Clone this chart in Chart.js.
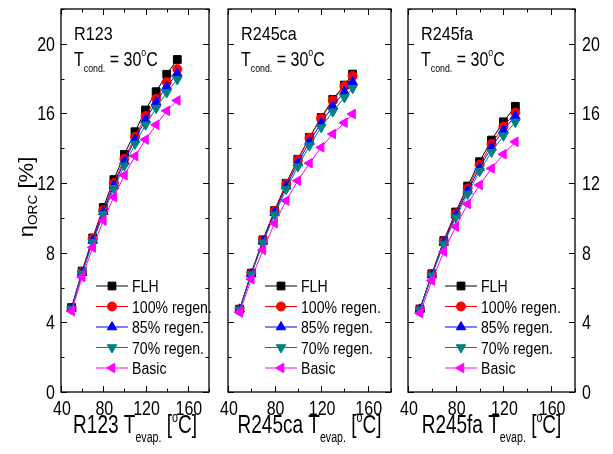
<!DOCTYPE html>
<html>
<head>
<meta charset="utf-8">
<script src="https://cdn.jsdelivr.net/npm/chart.js@4.4.0/dist/chart.umd.min.js"></script>
<style>
  body { margin: 0; background: #fff; width: 613px; height: 454px; overflow: hidden; position: relative; }
  canvas { position: absolute; left: 0; top: 0; }
</style>
</head>
<body>
<canvas id="c1" width="613" height="454"></canvas>
<canvas id="c2" width="613" height="454"></canvas>
<canvas id="c3" width="613" height="454"></canvas>
<script>
// evaporation temperatures (°C)
const tR123 = [50, 60, 70, 80, 90, 100, 110, 120, 130, 140, 150];
const tR245ca = [50, 60, 70, 80, 90, 100, 110, 120, 130, 140, 147];
const tR245fa = [50, 60, 70, 80, 90, 100, 110, 120, 130];

// efficiencies (%)
const r123FLH    = [4.85, 6.95, 8.85, 10.6, 12.2, 13.65, 14.95, 16.2, 17.25, 18.25, 19.1];
const r123Reg100 = [4.8, 6.9, 8.8, 10.45, 12.0, 13.4, 14.65, 15.85, 16.85, 17.8, 18.55];
const r123Reg85  = [4.8, 6.85, 8.7, 10.35, 11.85, 13.25, 14.5, 15.65, 16.65, 17.55, 18.3];
const r123Reg70  = [4.75, 6.8, 8.6, 10.2, 11.7, 13.0, 14.25, 15.35, 16.3, 17.2, 17.95];
const r123Basic  = [4.65, 6.6, 8.3, 9.85, 11.2, 12.45, 13.55, 14.5, 15.35, 16.15, 16.75];

const r245caFLH    = [4.76, 6.83, 8.74, 10.42, 11.99, 13.37, 14.63, 15.77, 16.81, 17.63, 18.26];
const r245caReg100 = [4.75, 6.8, 8.72, 10.4, 11.95, 13.33, 14.6, 15.72, 16.75, 17.58, 18.15];
const r245caReg85  = [4.75, 6.78, 8.65, 10.3, 11.82, 13.15, 14.38, 15.45, 16.42, 17.25, 17.82];
const r245caReg70  = [4.72, 6.75, 8.58, 10.18, 11.65, 12.95, 14.15, 15.2, 16.1, 16.92, 17.45];
const r245caBasic  = [4.57, 6.48, 8.16, 9.69, 10.99, 12.14, 13.14, 14.05, 14.82, 15.47, 15.97];

const r245faFLH    = [4.77, 6.79, 8.7, 10.34, 11.83, 13.23, 14.47, 15.52, 16.41];
const r245faReg100 = [4.75, 6.75, 8.65, 10.25, 11.7, 13.05, 14.25, 15.25, 16.05];
const r245faReg85  = [4.75, 6.72, 8.58, 10.15, 11.55, 12.88, 14.05, 15.05, 15.85];
const r245faReg70  = [4.72, 6.68, 8.5, 10.02, 11.38, 12.68, 13.78, 14.72, 15.5];
const r245faBasic  = [4.53, 6.4, 8.06, 9.5, 10.8, 11.89, 12.84, 13.66, 14.37];

const seriesNames = ['FLH', '100% regen.', '85% regen.', '70% regen.', 'Basic'];
const fluidNames = ['R123', 'R245ca', 'R245fa'];

const FONT = '"Liberation Sans", Arial, sans-serif';
const W = 613;

// marker styles for the five series
const styles = [
  { color: '#000000', pointStyle: 'rect', rotation: 0, radius: 5.5 },
  { color: '#ff0000', pointStyle: 'circle', rotation: 0, radius: 4.5 },
  { color: '#0000ff', pointStyle: 'triangle', rotation: 0, radius: 5.5 },
  { color: '#008080', pointStyle: 'triangle', rotation: 180, radius: 5.5 },
  { color: '#ff00ff', pointStyle: 'triangle', rotation: 270, radius: 5.5 }
];

// text drawn in pieces: [text, size, dy]
function drawRich(ctx, parts, x, y, align, sx) {
  let w = 0;
  parts.forEach(p => { ctx.font = p[1] + 'px ' + FONT; w += ctx.measureText(p[0]).width; });
  ctx.save();
  ctx.translate(x, y);
  ctx.scale(sx, 1);
  let cx = align === 'center' ? -w / 2 : (align === 'right' ? -w : 0);
  ctx.textAlign = 'left';
  ctx.textBaseline = 'alphabetic';
  ctx.fillStyle = '#000';
  parts.forEach(p => {
    ctx.font = p[1] + 'px ' + FONT;
    ctx.fillText(p[0], cx, p[2] || 0);
    cx += ctx.measureText(p[0]).width;
  });
  ctx.restore();
}

const framePlugin = {
  id: 'frame',
  beforeDatasetsDraw(chart, args, o) {
    const ctx = chart.ctx;
    const a = chart.chartArea;
    const xs = chart.scales.x, ys = chart.scales.y;
    ctx.save();
    ctx.strokeStyle = '#000';
    ctx.lineWidth = 1.3;
    ctx.strokeRect(a.left, a.top, a.right - a.left, a.bottom - a.top);
    ctx.lineWidth = 1;
    ctx.beginPath();
    xs.ticks.forEach(t => {
      const px = Math.round(xs.getPixelForValue(t.value)) + 0.5;
      const len = t.value % 40 === 0 ? 6 : 3.5;
      ctx.moveTo(px, a.bottom); ctx.lineTo(px, a.bottom - len);
      ctx.moveTo(px, a.top); ctx.lineTo(px, a.top + len);
    });
    ys.ticks.forEach(t => {
      const py = Math.round(ys.getPixelForValue(t.value)) + 0.5;
      const len = t.value % 4 === 0 ? 6 : 3.5;
      ctx.moveTo(a.left, py); ctx.lineTo(a.left + len, py);
      ctx.moveTo(a.right, py); ctx.lineTo(a.right - len, py);
    });
    ctx.stroke();

    // x tick labels
    xs.ticks.forEach(t => {
      if (t.value % 40 !== 0 || t.value > 160) return;
      drawRich(ctx, [[String(t.value), 20]], xs.getPixelForValue(t.value) + 1, 415, 'center', 0.8);
    });
    // y tick labels
    if (o.ySide) {
      ys.ticks.forEach(t => {
        if (t.value % 4 !== 0 || t.value > 20) return;
        const py = ys.getPixelForValue(t.value) + 7;
        if (o.ySide === 'left') drawRich(ctx, [[String(t.value), 20]], a.left - 6, py, 'right', 0.8);
        else drawRich(ctx, [[String(t.value), 20]], a.right + 7, py, 'left', 0.8);
      });
    }
    // x axis title
    const cxm = (a.left + a.right) / 2;
    drawRich(ctx, [[o.fluid + ' T', 25], ['evap.', 14, 9], [' [', 25], ['o', 14, -11], ['C]', 25]], cxm, 433, 'center', 0.76);
    // y axis title
    if (o.yTitle) {
      ctx.save();
      ctx.translate(33, 197);
      ctx.rotate(-Math.PI / 2);
      drawRich(ctx, [['\u03b7', 21], ['ORC', 13, 4], [' [%]', 21]], 0, 0, 'center', 1.05);
      ctx.restore();
    }
    // annotations
    drawRich(ctx, [[o.fluid, 19]], a.left + 13, 40, 'left', 0.85);
    drawRich(ctx, [['T', 20], ['cond.', 11, 6], [' = 30', 20], ['o', 11, -10], ['C', 20]], a.left + 13, 66, 'left', 0.8);
    ctx.restore();
  },
  afterDatasetsDraw(chart, args, o) {
    const ctx = chart.ctx;
    chart.data.datasets.forEach((ds, i) => {
      const y = 286 + i * 20.5;
      ctx.save();
      ctx.strokeStyle = ds.borderColor;
      ctx.lineWidth = 1;
      ctx.beginPath();
      ctx.moveTo(o.legendX, y); ctx.lineTo(o.legendX + 32, y);
      ctx.stroke();
      ctx.fillStyle = ds.backgroundColor;
      Chart.helpers.drawPoint(ctx, {
        pointStyle: ds.pointStyle, rotation: ds.rotation, radius: ds.pointRadius, borderWidth: 1
      }, o.legendX + 16, y);
      ctx.restore();
      drawRich(ctx, [[ds.label, 16]], o.legendX + 36, y + 6, 'left', 0.88);
    });
  }
};

function makeDatasets(temps, series) {
  return series.map((vals, i) => ({
    label: seriesNames[i],
    data: temps.map((t, k) => ({ x: t, y: vals[k] })),
    borderColor: styles[i].color,
    backgroundColor: styles[i].color,
    pointBackgroundColor: styles[i].color,
    pointBorderColor: styles[i].color,
    pointStyle: styles[i].pointStyle,
    rotation: styles[i].rotation,
    pointRadius: styles[i].radius,
    pointHoverRadius: styles[i].radius,
    borderWidth: 1,
    pointBorderWidth: 1,
    tension: 0,
    order: 5 - i
  }));
}

function makeChart(id, fluid, temps, series, areaLeft, areaRight, legendX, ySide, yTitle) {
  return new Chart(document.getElementById(id), {
    type: 'line',
    data: { datasets: makeDatasets(temps, series) },
    options: {
      responsive: false,
      animation: false,
      events: [],
      layout: { padding: { left: areaLeft, right: W - areaRight, top: 9, bottom: 454 - 392 } },
      plugins: {
        legend: { display: false },
        tooltip: { enabled: false },
        frame: { fluid: fluid, legendX: legendX, ySide: ySide, yTitle: yTitle }
      },
      scales: {
        x: {
          type: 'linear', min: 40, max: 180,
          ticks: { stepSize: 20, display: false },
          grid: { display: false }, border: { display: false },
          afterFit(s) { s.height = 0; }
        },
        y: {
          min: 0, max: 22,
          ticks: { stepSize: 2, display: false },
          grid: { display: false }, border: { display: false },
          afterFit(s) { s.width = 0; }
        }
      }
    },
    plugins: [framePlugin]
  });
}

makeChart('c1', fluidNames[0], tR123, [r123FLH, r123Reg100, r123Reg85, r123Reg70, r123Basic], 61, 209, 96, 'left', true);
makeChart('c2', fluidNames[1], tR245ca, [r245caFLH, r245caReg100, r245caReg85, r245caReg70, r245caBasic], 228, 391, 265, null, false);
makeChart('c3', fluidNames[2], tR245fa, [r245faFLH, r245faReg100, r245faReg85, r245faReg70, r245faBasic], 408, 575, 445, 'right', false);
</script>
</body>
</html>
